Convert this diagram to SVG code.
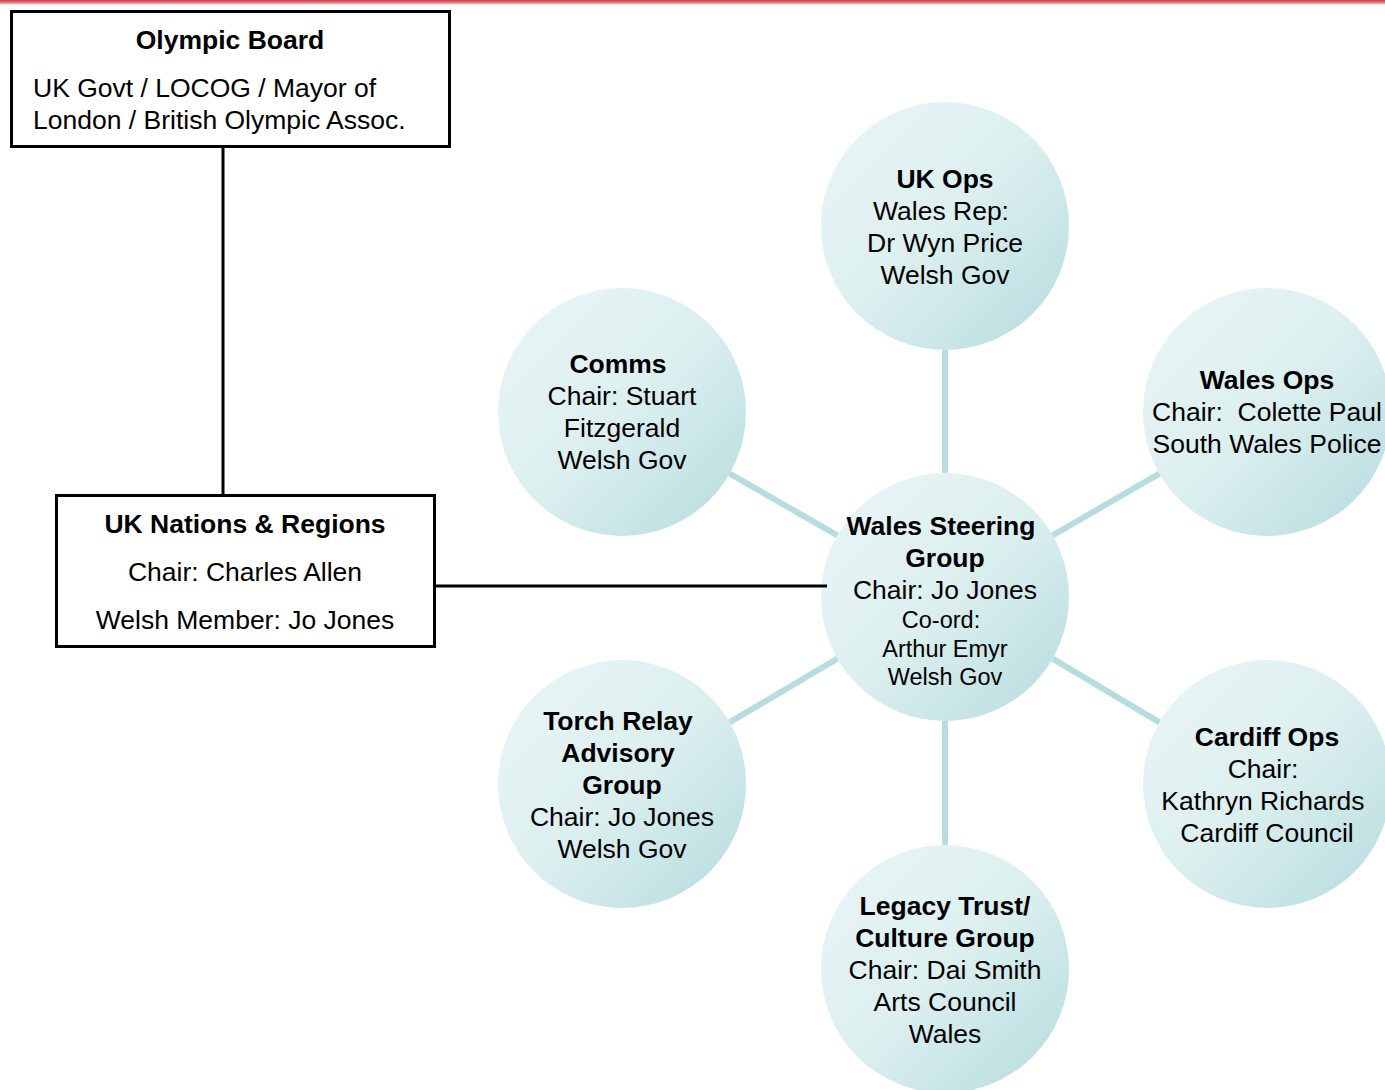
<svg xmlns="http://www.w3.org/2000/svg" width="1385" height="1090" viewBox="0 0 1385 1090">
<defs>
<linearGradient id="top" x1="0" y1="0" x2="0" y2="1">
<stop offset="0" stop-color="#c83848"/>
<stop offset="0.5" stop-color="#e88890"/>
<stop offset="1" stop-color="#ffffff" stop-opacity="0"/>
</linearGradient>
<linearGradient id="cg" x1="0.1" y1="0.1" x2="0.9" y2="0.9">
<stop offset="0" stop-color="#e8f4f5"/>
<stop offset="0.5" stop-color="#dcefef"/>
<stop offset="1" stop-color="#bcdfe2"/>
</linearGradient>
<style>
text{font-family:"Liberation Sans",Arial,sans-serif;font-size:26.5px;fill:#000}
.b{font-weight:bold}
.c{text-anchor:middle}
.s{font-size:23.5px}
.pre{white-space:pre}
.circ{fill:url(#cg)}
.box{fill:#fff;stroke:#000;stroke-width:3}
.bl{stroke:#b7dde1;stroke-width:6;fill:none}
.k{stroke:#000;stroke-width:3;fill:none}
</style>
</defs>
<rect width="1385" height="1090" fill="#fff"/>
<rect x="0" y="0" width="1385" height="6" fill="url(#top)"/>
<g id="olympic-board">
<rect class="box" x="11.5" y="11.5" width="438" height="135"/>
<text class="b c" x="230" y="49">Olympic Board</text>
<text x="33" y="97">UK Govt / LOCOG / Mayor of</text>
<text x="33" y="129">London / British Olympic Assoc.</text>
</g>
<g id="uk-nations">
<rect class="box" x="56.5" y="495.5" width="378" height="151"/>
<text class="b c" x="245" y="533">UK Nations &amp; Regions</text>
<text class="c" x="245" y="581">Chair: Charles Allen</text>
<text class="c" x="245" y="629">Welsh Member: Jo Jones</text>
</g>
<g id="uk-ops">
<circle class="circ" cx="945" cy="226" r="124"/>
<text class="b c" x="945" y="188">UK Ops</text>
<text class="c" x="941" y="220">Wales Rep:</text>
<text class="c" x="945" y="252">Dr Wyn Price</text>
<text class="c" x="945" y="284">Welsh Gov</text>
</g>
<g id="comms">
<circle class="circ" cx="622" cy="412" r="124"/>
<text class="b c" x="618" y="373">Comms</text>
<text class="c" x="622" y="405">Chair: Stuart</text>
<text class="c" x="622" y="437">Fitzgerald</text>
<text class="c" x="622" y="469">Welsh Gov</text>
</g>
<g id="wales-ops">
<circle class="circ" cx="1267" cy="412" r="124"/>
<text class="b c" x="1267" y="389">Wales Ops</text>
<text class="c pre" x="1267" y="421" xml:space="preserve">Chair:  Colette Paul</text>
<text class="c" x="1267" y="453">South Wales Police</text>
</g>
<g id="wales-steering">
<circle class="circ" cx="945" cy="597" r="124"/>
<text class="b c" x="941" y="535">Wales Steering</text>
<text class="b c" x="945" y="567">Group</text>
<text class="c" x="945" y="599">Chair: Jo Jones</text>
<text class="c s" x="941" y="628">Co-ord:</text>
<text class="c s" x="945" y="657">Arthur Emyr</text>
<text class="c s" x="945" y="685">Welsh Gov</text>
</g>
<g id="torch-relay">
<circle class="circ" cx="622" cy="784" r="124"/>
<text class="b c" x="618" y="730">Torch Relay</text>
<text class="b c" x="618" y="762">Advisory</text>
<text class="b c" x="622" y="794">Group</text>
<text class="c" x="622" y="826">Chair: Jo Jones</text>
<text class="c" x="622" y="858">Welsh Gov</text>
</g>
<g id="cardiff-ops">
<circle class="circ" cx="1267" cy="784" r="124"/>
<text class="b c" x="1267" y="746">Cardiff Ops</text>
<text class="c" x="1263" y="778">Chair:</text>
<text class="c" x="1263" y="810">Kathryn Richards</text>
<text class="c" x="1267" y="842">Cardiff Council</text>
</g>
<g id="legacy-trust">
<circle class="circ" cx="945" cy="969" r="124"/>
<text class="b c" x="945" y="915">Legacy Trust/</text>
<text class="b c" x="945" y="947">Culture Group</text>
<text class="c" x="945" y="979">Chair: Dai Smith</text>
<text class="c" x="945" y="1011">Arts Council</text>
<text class="c" x="945" y="1043">Wales</text>
</g>
<g id="connectors">
<line class="k" x1="223" y1="147" x2="223" y2="495"/>
<line class="k" x1="435" y1="586" x2="827" y2="586"/>
<line class="bl" x1="945" y1="473" x2="945" y2="350"/>
<line class="bl" x1="945" y1="721" x2="945" y2="845"/>
<line class="bl" x1="837.4" y1="535.4" x2="729.6" y2="473.6"/>
<line class="bl" x1="1052.6" y1="535.4" x2="1159.4" y2="473.6"/>
<line class="bl" x1="837.4" y1="658.6" x2="729.6" y2="722.4"/>
<line class="bl" x1="1052.6" y1="658.6" x2="1159.4" y2="722.4"/>
</g>
</svg>
